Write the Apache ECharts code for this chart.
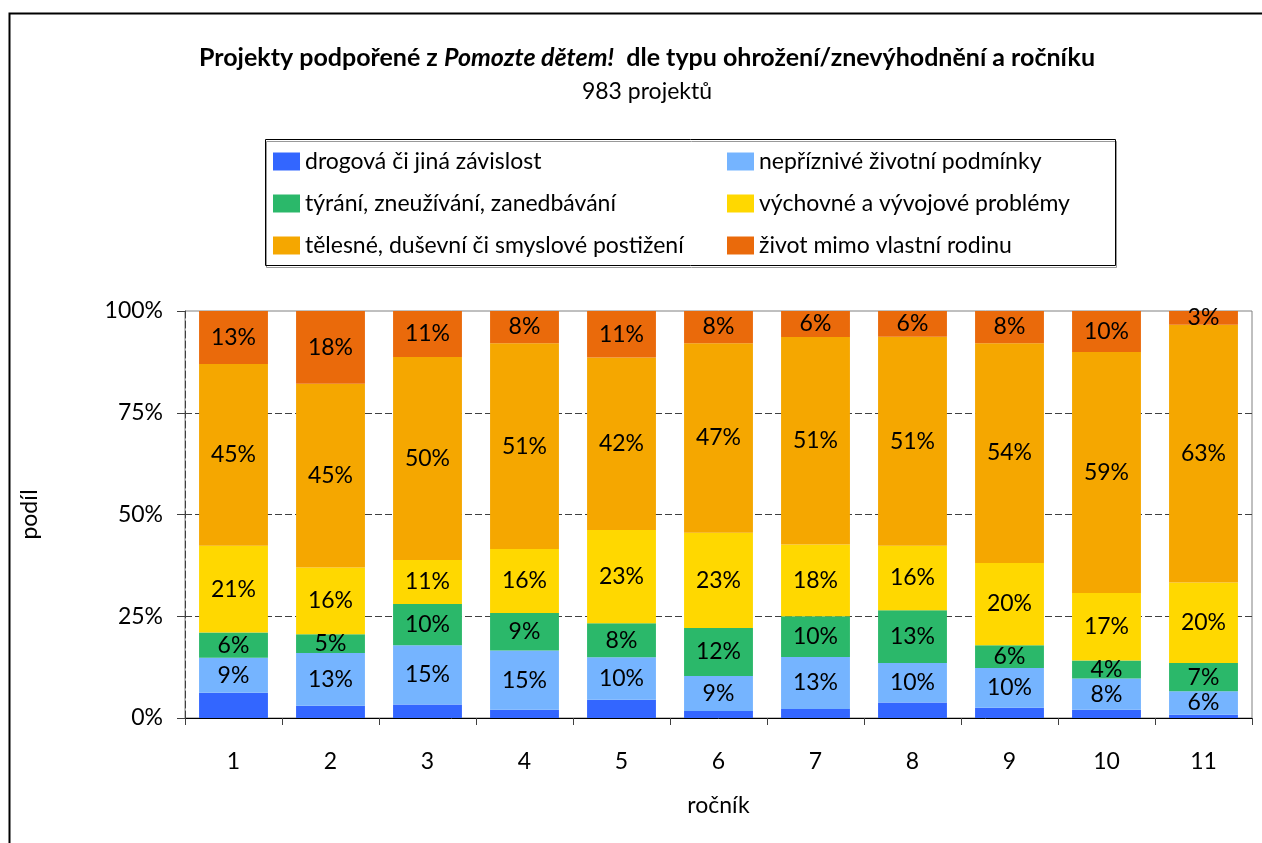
<!DOCTYPE html>
<html>
<head>
<meta charset="utf-8">
<script src="https://cdn.jsdelivr.net/npm/echarts@6/dist/echarts.min.js"></script>
<style>
    html, body { margin: 0; padding: 0; background: #fff; }
    #chart { width: 1262px; height: 843px; }
</style>
</head>
<body>
<div id="chart"></div>
<script>
const rocniky = ["1", "2", "3", "4", "5", "6", "7", "8", "9", "10", "11"];
const yTicks = [0, 25, 50, 75, 100];

// podíl v % (čteno z grafu)
const drogova = [6.2, 3.0, 3.3, 2.0, 4.5, 1.7, 2.2, 3.8, 2.5, 2.0, 0.8];
const nepriznive = [8.6, 13.0, 14.6, 14.6, 10.4, 8.6, 12.8, 9.7, 9.8, 7.7, 5.8];
const tyrani = [6.2, 4.6, 10.1, 9.2, 8.4, 11.8, 10.0, 13.0, 5.6, 4.4, 6.9];
const vychovne = [21.3, 16.4, 10.8, 15.7, 22.9, 23.4, 17.6, 15.8, 20.2, 16.6, 19.8];
const telesne = [44.7, 45.1, 49.9, 50.6, 42.4, 46.6, 51.0, 51.4, 54.0, 59.2, 63.3];
const zivot = [13.0, 17.9, 11.3, 7.9, 11.4, 7.9, 6.4, 6.3, 7.9, 10.1, 3.4];

const FONT = "Lato";
const FS = 23;

const chart = echarts.init(document.getElementById("chart"));

function makeSeries(name, data, color, showLabel) {
    return {
        name: name,
        type: "bar",
        stack: "podil",
        data: data,
        barCategoryGap: "29%",
        itemStyle: { color: color },
        label: {
            show: showLabel,
            position: "inside",
            color: "#000",
            fontFamily: FONT,
            fontSize: FS,
            formatter: (p) => Math.round(p.value) + "%",
        },
    };
}

const legendText = { color: "#000", fontFamily: FONT, fontSize: FS };

const option = {
    backgroundColor: "#fff",
    animation: false,
    title: {
        left: 642,
        top: 40,
        textAlign: "center",
        text: "{b|Projekty podpořené z }{bi|Pomozte dětem!}{b|  dle typu ohrožení/znevýhodnění a ročníku}",
        textStyle: {
            rich: {
                b: { fontFamily: FONT, fontWeight: "bold", fontSize: 25, color: "#000" },
                bi: { fontFamily: FONT, fontWeight: "bold", fontStyle: "italic", fontSize: 25, color: "#000" },
            },
        },
        subtext: "983 projektů",
        subtextStyle: { fontFamily: FONT, fontSize: FS, color: "#000" },
        itemGap: 10,
    },
    legend: [
        {
            orient: "vertical",
            left: 268,
            top: 145,
            itemWidth: 27,
            itemHeight: 18,
            itemGap: 19,
            icon: "rect",
            textStyle: legendText,
            data: ["drogová či jiná závislost", "týrání, zneužívání, zanedbávání", "tělesné, duševní či smyslové postižení"],
        },
        {
            orient: "vertical",
            left: 722,
            top: 145,
            itemWidth: 27,
            itemHeight: 18,
            itemGap: 19,
            icon: "rect",
            textStyle: legendText,
            data: ["nepříznivé životní podmínky", "výchovné a vývojové problémy", "život mimo vlastní rodinu"],
        },
    ],
    grid: {
        left: 185,
        right: 10,
        top: 311,
        bottom: 125,
        show: true,
        borderColor: "#808080",
        borderWidth: 1,
    },
    xAxis: {
        type: "category",
        data: rocniky,
        name: "ročník",
        nameLocation: "middle",
        nameGap: 76,
        nameTextStyle: { color: "#000", fontFamily: FONT, fontSize: FS },
        axisLine: { lineStyle: { color: "#000", width: 1 } },
        axisTick: { show: true, length: 7, lineStyle: { color: "#404040" } },
        axisLabel: { color: "#000", fontFamily: FONT, fontSize: FS, margin: 32 },
    },
    yAxis: {
        type: "value",
        min: yTicks[0],
        max: yTicks[yTicks.length - 1],
        interval: 25,
        name: "podíl",
        nameLocation: "middle",
        nameGap: 144,
        nameTextStyle: { color: "#000", fontFamily: FONT, fontSize: FS },
        axisLine: { show: true, lineStyle: { color: "#404040", type: [7, 3] } },
        axisTick: { show: true, length: 8, lineStyle: { color: "#404040" } },
        axisLabel: { color: "#000", fontFamily: FONT, fontSize: FS, margin: 22, formatter: "{value}%" },
        splitLine: {
            show: true,
            showMinLine: false,
            showMaxLine: false,
            lineStyle: { color: "#404040", type: [7, 3] },
        },
    },
    graphic: [
        {
            type: "rect",
            shape: { x: 9.5, y: 13.5, width: 1400, height: 1000 },
            style: { fill: "none", stroke: "#000", lineWidth: 2 },
            silent: true,
        },
        {
            type: "rect",
            shape: { x: 265.5, y: 139.5, width: 850, height: 126 },
            style: { fill: "none", stroke: "#000", lineWidth: 1, shadowColor: "#999", shadowOffsetX: 1, shadowOffsetY: 2 },
            silent: true,
        },
    ],
    series: [
        makeSeries("drogová či jiná závislost", drogova, "#3366FF", false),
        makeSeries("nepříznivé životní podmínky", nepriznive, "#75B4FF", true),
        makeSeries("týrání, zneužívání, zanedbávání", tyrani, "#2BB86A", true),
        makeSeries("výchovné a vývojové problémy", vychovne, "#FFD800", true),
        makeSeries("tělesné, duševní či smyslové postižení", telesne, "#F5A700", true),
        makeSeries("život mimo vlastní rodinu", zivot, "#EA6A0B", true),
    ],
};

chart.setOption(option);
</script>
</body>
</html>
